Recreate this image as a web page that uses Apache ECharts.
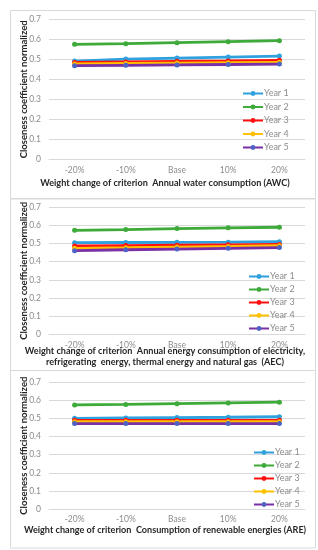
<!DOCTYPE html>
<html><head><meta charset="utf-8">
<script src="https://cdn.jsdelivr.net/npm/echarts@6/dist/echarts.min.js"></script>
<style>html,body{margin:0;padding:0;background:#fff}#c{width:318px;height:550px}</style>
</head><body><div id="c"></div>
<script>
const categories = ['-20%', '-10%', 'Base', '10%', '20%'];
const seriesNames = ['Year 1', 'Year 2', 'Year 3', 'Year 4', 'Year 5'];
const yTicks = [0, 0.1, 0.2, 0.3, 0.4, 0.5, 0.6, 0.7];
// Panel 1: AWC
const awcYear1 = [0.491, 0.501, 0.506, 0.511, 0.516];
const awcYear2 = [0.575, 0.578, 0.583, 0.588, 0.593];
const awcYear3 = [0.484, 0.487, 0.490, 0.492, 0.495];
const awcYear4 = [0.477, 0.479, 0.481, 0.483, 0.485];
const awcYear5 = [0.468, 0.470, 0.472, 0.474, 0.476];
// Panel 2: AEC
const aecYear1 = [0.505, 0.506, 0.507, 0.508, 0.510];
const aecYear2 = [0.573, 0.577, 0.583, 0.587, 0.590];
const aecYear3 = [0.487, 0.489, 0.491, 0.493, 0.495];
const aecYear4 = [0.474, 0.477, 0.481, 0.484, 0.488];
const aecYear5 = [0.461, 0.466, 0.470, 0.474, 0.478];
// Panel 3: ARE
const areYear1 = [0.501, 0.503, 0.505, 0.507, 0.510];
const areYear2 = [0.575, 0.578, 0.582, 0.586, 0.590];
const areYear3 = [0.490, 0.490, 0.490, 0.490, 0.490];
const areYear4 = [0.482, 0.482, 0.482, 0.482, 0.482];
const areYear5 = [0.472, 0.472, 0.472, 0.472, 0.472];
const xTitles = [
  'Weight change of criterion  Annual water consumption (AWC)',
  'Weight change of criterion  Annual energy consumption of electricity,\nrefrigerating  energy, thermal energy and natural gas  (AEC)',
  'Weight change of criterion  Consumption of renewable energies (ARE)'
];
const yTitle = 'Closeness coefficient normalized';

const panels = [
  [awcYear1, awcYear2, awcYear3, awcYear4, awcYear5],
  [aecYear1, aecYear2, aecYear3, aecYear4, aecYear5],
  [areYear1, areYear2, areYear3, areYear4, areYear5]
];
const lineColors = ['#2ea1de', '#3daa3a', '#ff1010', '#ffc000', '#7a2fa6'];
const markColors = ['#2ea1de', '#3daa3a', '#ff1010', '#ffc000', '#4d62c4'];
const FONT = 'Lato, "Liberation Sans", Arial, sans-serif';

const grids = [
  {left: 49, width: 256, top: 19.3, height: 140},
  {left: 49, width: 256, top: 207.3, height: 127},
  {left: 49, width: 256, top: 382.3, height: 126.7}
];
const legendPos = [
  {left: 237, top: 84, gap: 4.5},
  {left: 243, top: 267, gap: 4},
  {left: 248, top: 443, gap: 4}
];
const titleTops = [177.5, 346, 525];
const boxes = [[10.5, 10.5, 305, 188], [10.5, 199, 305, 171.5], [10.5, 370.5, 305, 177.5]];

const option = {
  animation: false,
  textStyle: {fontFamily: FONT},
  grid: grids,
  xAxis: grids.map((g, i) => ({
    type: 'category', gridIndex: i, data: categories, boundaryGap: true,
    axisTick: {show: false},
    axisLine: {lineStyle: {color: '#d9d9d9'}},
    axisLabel: {color: '#8c8c8c', fontSize: 8.5, margin: 6, fontFamily: FONT}
  })),
  yAxis: grids.map((g, i) => ({
    type: 'value', gridIndex: i, min: 0, max: 0.7, interval: 0.1,
    axisLabel: {color: '#8c8c8c', fontSize: 8.5, margin: 8, fontFamily: FONT,
      formatter: v => (Math.round(v * 10) / 10).toString()},
    splitLine: {lineStyle: {color: '#d9d9d9'}},
    name: yTitle, nameLocation: 'middle', nameGap: 20, nameMoveOverlap: false,
    nameTextStyle: {fontWeight: 'bold', fontSize: 9.5, color: '#262626', fontFamily: FONT}
  })),
  legend: legendPos.map((p, i) => ({
    orient: 'vertical', left: p.left, top: p.top, itemGap: p.gap,
    itemWidth: 20, itemHeight: 6,
    textStyle: {color: '#8c8c8c', fontSize: 9, padding: [0, 0, 0, -4], fontFamily: FONT},
    data: seriesNames.map(n => ({name: n + '\u200b'.repeat(i)}))
  })),
  title: xTitles.map((t, i) => ({
    text: t, left: 165, top: titleTops[i], textAlign: 'center', padding: 0,
    textStyle: {fontWeight: 'bold', fontSize: 9.1, lineHeight: 11, color: '#262626', fontFamily: FONT}
  })),
  graphic: boxes.map(b => ({
    type: 'rect', shape: {x: b[0], y: b[1], width: b[2], height: b[3]},
    style: {fill: 'none', stroke: '#d9d9d9', lineWidth: 1}, silent: true, z: -1
  })),
  series: []
};
panels.forEach((arrs, pi) => {
  arrs.forEach((d, si) => {
    option.series.push({
      type: 'line', name: seriesNames[si] + '\u200b'.repeat(pi),
      xAxisIndex: pi, yAxisIndex: pi, data: d,
      symbol: 'circle', symbolSize: 5,
      lineStyle: {width: 2.8, color: lineColors[si]},
      itemStyle: {color: markColors[si], borderWidth: 0},
      color: lineColors[si]
    });
  });
});
const chart = echarts.init(document.getElementById('c'));
chart.setOption(option);
</script></body></html>
